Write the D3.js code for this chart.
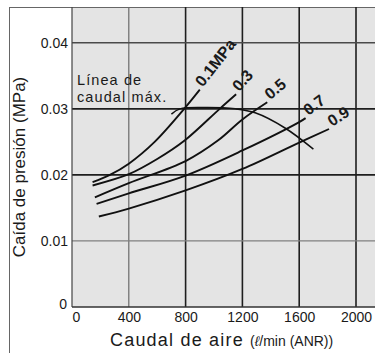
<!DOCTYPE html>
<html>
<head>
<meta charset="utf-8">
<script src="https://cdn.jsdelivr.net/npm/d3@7"></script>
<style>
  html, body { margin: 0; padding: 0; background: #fff; }
  svg { display: block; }
  text { font-family: "Liberation Sans", Arial, sans-serif; fill: #1a1a1a; }
</style>
</head>
<body>
<svg id="chart" width="375" height="353"></svg>
<script>
// ---- Data ----
const seriesNames = ["0.1MPa", "0.3", "0.5", "0.7", "0.9"];
const flow01 = [145, 267, 400, 582, 790, 900];
const drop01 = [0.0189, 0.0200, 0.0217, 0.0250, 0.0300, 0.0329];
const flow03 = [145, 400, 600, 793, 1040, 1156];
const drop03 = [0.0184, 0.0201, 0.0224, 0.0252, 0.0300, 0.0322];
const flow05 = [161, 400, 800, 1027, 1200, 1375];
const drop05 = [0.0166, 0.01875, 0.0221, 0.0252, 0.0284, 0.0310];
const flow07 = [173, 400, 800, 1200, 1600, 1645];
const drop07 = [0.0156, 0.0172, 0.0199, 0.0237, 0.0280, 0.0286];
const flow09 = [189, 400, 800, 1200, 1600, 1810];
const drop09 = [0.0137, 0.0149, 0.01765, 0.0209, 0.0249, 0.02695];
const maxFlow = [700, 760, 950, 1150, 1290, 1500, 1700];
const maxDrop = [0.0292, 0.0300, 0.0302, 0.0300, 0.0294, 0.0271, 0.0239];
const labelAngles = [-52, -48, -40, -37, -33];
const xTickValues = [0, 400, 800, 1200, 1600, 2000];
const xTickLabels = ["0", "400", "800", "1200", "1600", "2000"];
const yTickValues = [0, 0.01, 0.02, 0.03, 0.04];
const yTickLabels = ["0", "0.01", "0.02", "0.03", "0.04"];
const maxLineLabel = ["Línea de", "caudal máx."];
const yTitle = "Caída de presión (MPa)";
const xTitleMain = "Caudal de aire ";
const xTitleUnit = ["(", "ℓ", "/min (ANR))"];

const flows = [flow01, flow03, flow05, flow07, flow09];
const drops = [drop01, drop03, drop05, drop07, drop09];

// ---- Layout ----
const W = 375, H = 353;
const svg = d3.select("#chart");
const x = d3.scaleLinear().domain([0, 2000]).range([72, 356]);
const y = d3.scaleLinear().domain([0, 0.04]).range([307, 42.8]);
const plotTop = 7, plotRight = W;

// outer frame
svg.append("line").attr("x1", 9.5).attr("x2", 9.5).attr("y1", plotTop).attr("y2", H)
  .attr("stroke", "#666").attr("stroke-width", 1);
svg.append("line").attr("x1", 9).attr("x2", W).attr("y1", plotTop + 0.5).attr("y2", plotTop + 0.5)
  .attr("stroke", "#666").attr("stroke-width", 1);

// plot background
svg.append("rect").attr("x", x(0)).attr("y", plotTop + 1)
  .attr("width", plotRight - x(0)).attr("height", y(0) - plotTop - 1)
  .attr("fill", "#e4e4e4");

// grid
const vColors = {400: "#6a6a6a", 800: "#1e1e1e", 1200: "#1e1e1e", 1600: "#1e1e1e", 2000: "#1e1e1e"};
svg.append("g").selectAll("line").data(xTickValues.slice(1)).join("line")
  .attr("x1", d => x(d)).attr("x2", d => x(d))
  .attr("y1", plotTop).attr("y2", y(0))
  .attr("stroke", d => vColors[d]).attr("stroke-width", d => d === 400 ? 1.2 : 1.6);
const hColors = {0.01: "#808080", 0.02: "#1e1e1e", 0.03: "#1e1e1e", 0.04: "#4a4a4a"};
svg.append("g").selectAll("line").data(yTickValues.slice(1)).join("line")
  .attr("x1", x(0)).attr("x2", plotRight)
  .attr("y1", d => y(d)).attr("y2", d => y(d))
  .attr("stroke", d => hColors[d]).attr("stroke-width", d => d === 0.01 ? 1.2 : 1.6);

// axes frame
svg.append("line").attr("x1", x(0)).attr("x2", x(0)).attr("y1", plotTop).attr("y2", y(0))
  .attr("stroke", "#444").attr("stroke-width", 1.2);
svg.append("line").attr("x1", x(0)).attr("x2", plotRight).attr("y1", y(0)).attr("y2", y(0))
  .attr("stroke", "#333").attr("stroke-width", 1.4);

// axes (labels only)
const xAxis = d3.axisBottom(x).tickValues(xTickValues)
  .tickFormat((d, i) => xTickLabels[i]).tickSize(0).tickPadding(5);
const gx = svg.append("g").attr("transform", `translate(0,${y(0)})`).call(xAxis);
gx.select(".domain").remove();
gx.selectAll("text").attr("font-size", 14).attr("font-family", "Liberation Sans, Arial, sans-serif")
  .attr("fill", "#1a1a1a").attr("dx", d => d === 0 ? 4 : 0);

const yAxis = d3.axisLeft(y).tickValues(yTickValues)
  .tickFormat((d, i) => yTickLabels[i]).tickSize(0).tickPadding(4);
const gy = svg.append("g").attr("transform", `translate(${x(0)},0)`).call(yAxis);
gy.select(".domain").remove();
gy.selectAll("text").attr("font-size", 14).attr("font-family", "Liberation Sans, Arial, sans-serif")
  .attr("fill", "#1a1a1a").attr("dy", d => d === 0 ? "0.1em" : "0.32em")
  .attr("dx", d => d === 0 ? -1 : 0);

// curves
const line = d3.line().x(d => x(d[0])).y(d => y(d[1])).curve(d3.curveCatmullRom.alpha(0.5));
const curveData = flows.map((f, i) => f.map((v, j) => [v, drops[i][j]]));
svg.append("g").selectAll("path").data(curveData).join("path")
  .attr("d", line).attr("fill", "none").attr("stroke", "#111").attr("stroke-width", 1.9);

// max flow line
svg.append("path").datum(maxFlow.map((v, j) => [v, maxDrop[j]]))
  .attr("d", d3.line().x(d => x(d[0])).y(d => y(d[1])).curve(d3.curveCatmullRom))
  .attr("fill", "none").attr("stroke", "#111").attr("stroke-width", 1.5);

// curve labels
svg.append("g").selectAll("text").data(curveData).join("text")
  .attr("transform", (d, i) => {
    const p = d[d.length - 1];
    return `translate(${x(p[0]) + 3},${y(p[1]) - 2}) rotate(${labelAngles[i]})`;
  })
  .attr("font-size", 16).attr("font-weight", "bold")
  .text((d, i) => seriesNames[i]);

// max-flow annotation
svg.append("g").selectAll("text").data(maxLineLabel).join("text")
  .attr("x", 77).attr("y", (d, i) => 85 + i * 16.8)
  .attr("font-size", 14.5).attr("letter-spacing", 1.1).attr("fill", "#222")
  .text(d => d);

// axis titles
svg.append("text").attr("transform", "translate(25,167) rotate(-90)")
  .attr("text-anchor", "middle").attr("font-size", 17).text(yTitle);

const xt = svg.append("text").attr("x", 110).attr("y", 346).attr("font-size", 18)
  .attr("letter-spacing", 1.2);
xt.append("tspan").text(xTitleMain);
xt.append("tspan").attr("font-size", 14).attr("letter-spacing", 0).text(xTitleUnit[0]);
xt.append("tspan").attr("font-size", 14).attr("letter-spacing", 0).attr("font-style", "italic").text(xTitleUnit[1]);
xt.append("tspan").attr("font-size", 14).attr("letter-spacing", 0).text(xTitleUnit[2]);
</script>
</body>
</html>
